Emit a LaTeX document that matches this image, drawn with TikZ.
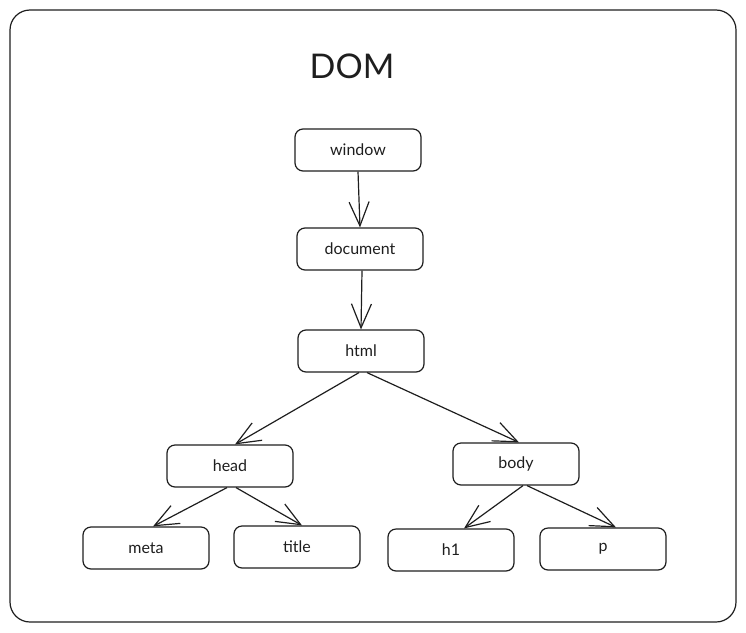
\documentclass[tikz,border=0pt]{standalone}
\usepackage{fontspec}
\setmainfont{Lato}
\usetikzlibrary{arrows.meta}
\definecolor{ink}{HTML}{1E1E1E}
\begin{document}
\begin{tikzpicture}[x=1pt,y=-1pt,
  tag/.style={draw=ink, line width=1.2pt, rounded corners=8pt, minimum width=126pt, minimum height=42pt, inner sep=0pt, font=\fontsize{16}{19}\selectfont, text=ink},
  link/.style={draw=ink, line width=1.2pt, -{Straight Barb[length=24pt,width=20pt,line width=1.2pt]}}]
\useasboundingbox (0,0) rectangle (746,632);
\draw[ink, line width=1.2pt, rounded corners=20pt] (10,10) rectangle (736,622);
\node[text=ink, font=\fontsize{34}{38}\selectfont] (title) at (352,66) {DOM};
\node[tag] (window) at (358,150) {window};
\node[tag] (document) at (360,249) {document};
\node[tag] (html) at (361,351) {html};
\node[tag] (head) at (230,466) {head};
\node[tag] (body) at (516,464) {body};
\node[tag] (meta) at (146,548) {meta};
\node[tag] (titlet) at (297,547) {title};
\node[tag] (h1) at (451,550) {h1};
\node[tag] (p) at (603,549) {p};
\draw[link] ([xshift=0pt]window.south) -- (document.north);
\draw[link] ([xshift=2pt]document.south) -- (html.north);
\draw[link] ([xshift=-2pt]html.south) -- ([xshift=5pt]head.north);
\draw[link] ([xshift=6pt]html.south) -- ([xshift=3pt]body.north);
\draw[link] ([xshift=-3pt]head.south) -- ([xshift=7pt]meta.north);
\draw[link] ([xshift=6pt]head.south) -- ([xshift=5pt]titlet.north);
\draw[link] ([xshift=7pt]body.south) -- ([xshift=13pt]h1.north);
\draw[link] ([xshift=11pt]body.south) -- ([xshift=13pt]p.north);
\end{tikzpicture}
\end{document}
